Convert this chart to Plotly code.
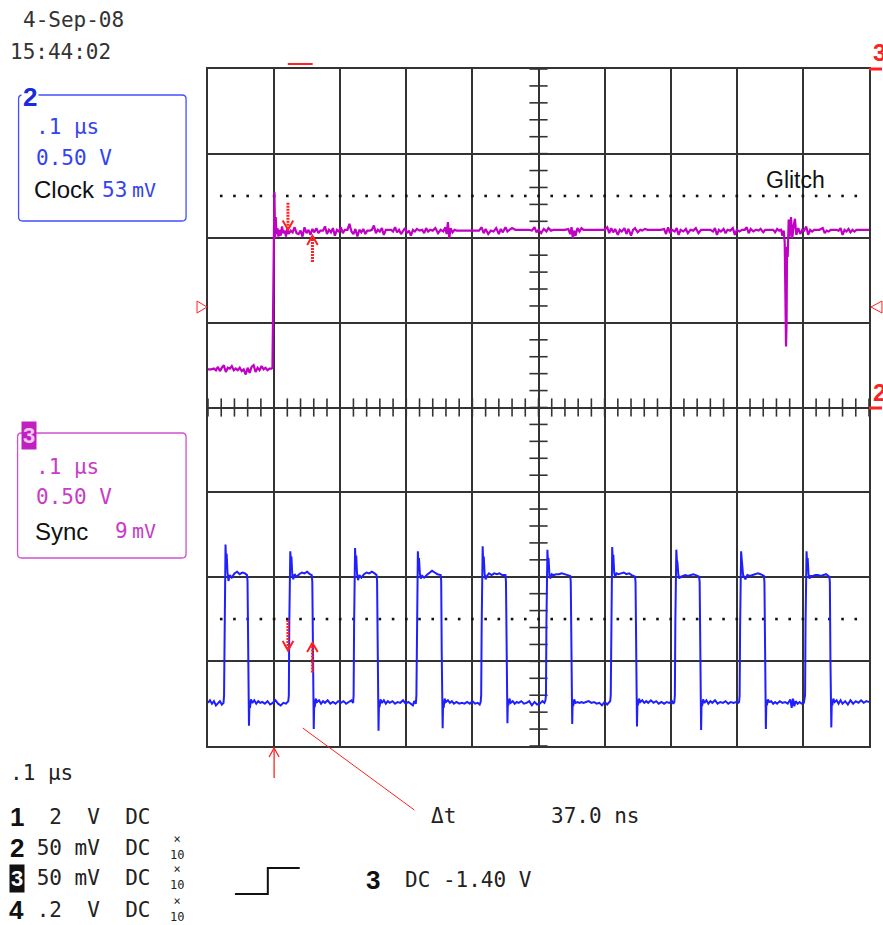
import plotly.graph_objects as go

# ---------------- data ----------------
# time axis in ns (0.1 us/div, 10 divisions), vertical in divisions (8 divisions)
x_range = [0, 1000]
y_range = [-4, 4]
trigger_t = 100
cursor_t1, cursor_t2 = 121, 158
trigger_level = 2.5      # dotted lines at +/- this level

# Clock (blue) trace
clock_t = [
    0, 3, 6, 9, 12, 15, 18, 21,
    23.5, 24.3, 25.0, 25.8, 26.5, 27.3, 28.2, 29.5, 31, 33, 36, 40, 44, 48, 52, 56, 59,
    59.8, 60.6, 61.3, 62, 62.7, 63.5, 65, 67, 70, 73, 76, 79, 82, 86, 90, 94, 98, 102, 106, 110, 114, 118, 121.5,
    122.3, 123, 123.8, 124.5, 125.3, 126.2, 127.5, 129, 131, 134, 138, 142, 146, 150, 154, 157,
    157.8, 158.6, 159.3, 160, 160.7, 161.5, 163, 165, 168, 171, 174, 177, 181, 185, 189, 193, 197, 201, 205, 209, 213, 217, 219.5,
    220.3, 221, 221.8, 222.5, 223.3, 224.2, 225.5, 227, 229, 232, 236, 240, 244, 248, 252, 255,
    255.8, 256.6, 257.3, 258, 258.7, 259.5, 261, 263, 266, 269, 272, 275, 279, 283, 287, 291, 295, 299, 303, 307, 310, 312, 314.5,
    315.3, 316, 316.8, 317.5, 318.3, 319.2, 320.5, 322, 324, 327, 331, 335, 339, 343, 347, 352,
    352.8, 353.6, 354.3, 355, 355.7, 356.5, 358, 360, 363, 366, 369, 372, 376, 380, 384, 388, 392, 396, 400, 404, 408, 411, 412.5,
    413.3, 414, 414.8, 415.5, 416.3, 417.2, 418.5, 420, 422, 425, 429, 433, 437, 441, 445, 450,
    450.8, 451.6, 452.3, 453, 453.7, 454.5, 456, 458, 461, 464, 467, 470, 474, 478, 482, 486, 490, 494, 498, 502, 506, 509, 510.5,
    511.3, 512, 512.8, 513.5, 514.3, 515.2, 516.5, 518, 520, 523, 527, 531, 535, 539, 543, 548,
    548.8, 549.6, 550.3, 551, 551.7, 552.5, 554, 556, 559, 562, 565, 568, 572, 576, 580, 584, 588, 592, 596, 600, 604, 607, 608.5,
    609.3, 610, 610.8, 611.5, 612.3, 613.2, 614.5, 616, 618, 621, 625, 629, 633, 637, 641, 646,
    646.8, 647.6, 648.3, 649, 649.7, 650.5, 652, 654, 657, 660, 663, 666, 670, 674, 678, 682, 686, 690, 694, 698, 702, 704, 705.5,
    706.3, 707, 707.8, 708.5, 709.3, 710.2, 711.5, 713, 715, 718, 722, 726, 730, 734, 738, 743,
    743.8, 744.6, 745.3, 746, 746.7, 747.5, 749, 751, 754, 757, 760, 763, 767, 771, 775, 779, 783, 787, 791, 795, 799, 802, 803.5,
    804.3, 805, 805.8, 806.5, 807.3, 808.2, 809.5, 811, 813, 816, 820, 824, 828, 832, 836, 841,
    841.8, 842.6, 843.3, 844, 844.7, 845.5, 847, 849, 852, 855, 858, 861, 865, 869, 873, 877, 881, 883, 885, 887, 889, 892, 895, 898, 901.5,
    903.3, 904, 904.8, 905.5, 906.3, 907.2, 908.5, 910, 912, 915, 919, 923, 927, 931, 935, 940,
    940.8, 941.6, 942.3, 943, 943.7, 944.5, 946, 948, 951, 954, 957, 960, 964, 968, 972, 976, 980, 984, 988, 992, 996, 1000,
]
clock_v = [
    -3.49, -3.46, -3.50, -3.47, -3.52, -3.49, -3.47, -3.51,
    -3.49, -3.40, -2.60, -1.85, -1.62, -1.82, -1.73, -1.95, -2.05, -1.98, -2.01, -1.96, -1.94, -1.97, -1.95, -1.96, -1.98,
    -2.05, -2.90, -3.55, -3.76, -3.48, -3.55, -3.45, -3.49, -3.46, -3.50, -3.47, -3.49, -3.48, -3.50, -3.47, -3.51, -3.49, -3.46, -3.50, -3.52, -3.49, -3.50, -3.47,
    -3.40, -2.55, -1.90, -1.70, -1.80, -1.76, -1.98, -2.03, -1.97, -2.00, -1.97, -1.95, -1.96, -1.94, -1.97, -1.98,
    -2.06, -2.95, -3.55, -3.80, -3.47, -3.54, -3.44, -3.48, -3.46, -3.50, -3.47, -3.49, -3.46, -3.50, -3.48, -3.50, -3.47, -3.49, -3.47, -3.50, -3.48, -3.46, -3.49,
    -3.40, -2.60, -1.88, -1.66, -1.83, -1.75, -1.97, -2.04, -1.98, -2.01, -1.97, -1.95, -1.96, -1.94, -1.96, -1.98,
    -2.05, -2.90, -3.55, -3.82, -3.48, -3.54, -3.45, -3.49, -3.46, -3.50, -3.47, -3.49, -3.47, -3.50, -3.48, -3.49, -3.46, -3.50, -3.48, -3.50, -3.52, -3.47, -3.50,
    -3.40, -2.55, -1.90, -1.70, -1.85, -1.78, -1.96, -2.02, -1.99, -2.01, -1.98, -1.95, -1.93, -1.95, -1.97, -1.98,
    -2.05, -2.90, -3.55, -3.79, -3.47, -3.55, -3.44, -3.48, -3.46, -3.49, -3.47, -3.50, -3.48, -3.50, -3.49, -3.50, -3.48, -3.50, -3.47, -3.50, -3.49, -3.51, -3.48,
    -3.40, -2.60, -1.88, -1.64, -1.82, -1.76, -1.97, -2.03, -1.99, -1.96, -1.98, -1.96, -1.97, -1.96, -1.98, -1.98,
    -2.06, -2.95, -3.55, -3.73, -3.45, -3.52, -3.44, -3.49, -3.47, -3.50, -3.48, -3.49, -3.47, -3.50, -3.49, -3.47, -3.52, -3.48, -3.51, -3.50, -3.47, -3.49, -3.46,
    -3.40, -2.55, -1.90, -1.68, -1.82, -1.78, -1.98, -2.02, -1.97, -1.98, -1.97, -1.97, -1.96, -1.97, -1.98, -1.99,
    -2.06, -2.92, -3.55, -3.74, -3.47, -3.53, -3.45, -3.49, -3.48, -3.49, -3.48, -3.49, -3.48, -3.47, -3.49, -3.48, -3.50, -3.49, -3.52, -3.48, -3.51, -3.49, -3.47,
    -3.40, -2.60, -1.88, -1.65, -1.80, -1.74, -1.95, -2.00, -1.96, -1.97, -1.96, -1.95, -1.97, -1.96, -1.98, -2.00,
    -2.06, -2.92, -3.55, -3.77, -3.46, -3.52, -3.44, -3.48, -3.46, -3.49, -3.47, -3.49, -3.46, -3.49, -3.47, -3.50, -3.48, -3.50, -3.48, -3.49, -3.47, -3.50, -3.48,
    -3.40, -2.55, -1.85, -1.68, -1.80, -1.83, -1.97, -2.02, -2.00, -1.99, -1.98, -1.99, -1.98, -1.97, -1.98, -2.00,
    -2.06, -2.95, -3.55, -3.81, -3.47, -3.53, -3.45, -3.49, -3.46, -3.50, -3.47, -3.49, -3.46, -3.50, -3.48, -3.49, -3.47, -3.50, -3.48, -3.49, -3.48, -3.49, -3.48,
    -3.40, -2.60, -1.90, -1.70, -1.78, -1.87, -1.98, -2.00, -2.03, -1.98, -1.99, -1.98, -1.97, -1.96, -1.97, -1.99,
    -2.06, -2.95, -3.55, -3.80, -3.46, -3.52, -3.45, -3.48, -3.47, -3.50, -3.48, -3.50, -3.47, -3.49, -3.48, -3.50, -3.45, -3.55, -3.44, -3.53, -3.47, -3.50, -3.48, -3.50, -3.49,
    -3.40, -2.55, -1.88, -1.70, -1.82, -1.78, -1.97, -2.02, -1.99, -1.99, -1.98, -1.98, -1.99, -1.98, -1.97, -2.00,
    -2.06, -2.95, -3.55, -3.78, -3.48, -3.52, -3.44, -3.48, -3.46, -3.50, -3.46, -3.50, -3.47, -3.51, -3.46, -3.50, -3.47, -3.49, -3.46, -3.49, -3.47, -3.48,
]

# Sync (magenta) trace
sync_t = [
    0, 5, 9, 12, 15, 18, 21, 24, 27, 30,
    33, 36, 39, 42, 45, 48, 51, 54, 57, 60,
    63, 66, 69, 72, 75, 78, 81, 84, 87, 90,
    93, 96, 97.5, 98.5, 99.5, 100.5, 101.5, 102.5, 103.5, 105,
    106.5, 108, 110, 112, 114, 116, 118, 120, 122, 125,
    128, 131, 134, 137, 140, 143, 146, 149, 152, 155,
    158, 161, 164, 167, 170, 174, 177, 180, 183, 186,
    189, 192, 195, 198, 201, 204, 207, 211, 214, 217,
    220, 223, 226, 229, 232, 235, 238, 241, 245, 248,
    251, 254, 257, 260, 263, 266, 269, 273, 277, 280,
    283, 286, 289, 292, 295, 298, 301, 304, 307, 310,
    313, 316, 320, 324, 327, 330, 333, 336, 340, 344,
    348, 352, 356, 359, 361, 363, 365, 367, 370, 373,
    376, 380, 390, 400, 410, 414, 417, 420, 424, 428,
    432, 436, 440, 443, 446, 450, 453, 456, 460, 465,
    475, 485, 490, 494, 497, 500, 504, 508, 512, 515,
    519, 523, 528, 535, 540, 545, 548, 550, 552, 554,
    556, 559, 562, 565, 568, 572, 580, 590, 600, 604,
    607, 610, 613, 616, 620, 623, 626, 630, 633, 636,
    640, 643, 646, 650, 654, 657, 661, 665, 670, 675,
    680, 685, 690, 693, 696, 699, 702, 706, 709, 712,
    715, 719, 723, 726, 730, 734, 738, 742, 746, 750,
    755, 760, 764, 767, 770, 773, 776, 780, 783, 786,
    790, 794, 797, 800, 804, 808, 812, 815, 818, 821,
    825, 829, 833, 836, 840, 843, 847, 851, 855, 858,
    861, 864, 867, 869, 871, 872.5, 873.5, 874.5, 875.3, 876,
    877, 878.5, 880, 882, 884, 886, 888, 890, 893, 896,
    899, 902, 905, 908, 911, 914, 917, 920, 925, 930,
    933, 936, 939, 942, 946, 950, 954, 957, 960, 963,
    966, 969, 972, 975, 978, 981, 985, 990, 995, 1000,
]
sync_v = [
    0.45, 0.45, 0.46, 0.44, 0.48, 0.43, 0.47, 0.50, 0.42, 0.47,
    0.46, 0.49, 0.44, 0.46, 0.44, 0.47, 0.43, 0.45, 0.39, 0.47,
    0.41, 0.48, 0.50, 0.42, 0.47, 0.44, 0.49, 0.45, 0.47, 0.44,
    0.46, 0.46, 0.47, 1.35, 2.05, 2.55, 2.00, 2.25, 2.05, 2.12,
    2.02, 2.10, 2.03, 2.14, 2.06, 2.09, 2.02, 2.12, 2.05, 2.09,
    2.07, 2.13, 2.06, 2.05, 2.09, 2.02, 2.13, 2.06, 2.10, 2.04,
    2.11, 2.07, 2.12, 2.06, 2.09, 2.09, 2.14, 2.05, 2.10, 2.07,
    2.12, 2.03, 2.10, 2.08, 2.13, 2.06, 2.10, 2.10, 2.17, 2.08,
    2.05, 2.11, 2.02, 2.10, 2.07, 2.11, 2.05, 2.09, 2.09, 2.10,
    2.15, 2.06, 2.10, 2.08, 2.12, 2.04, 2.10, 2.10, 2.10, 2.08,
    2.13, 2.07, 2.10, 2.05, 2.09, 2.12, 2.06, 2.09, 2.03, 2.10,
    2.08, 2.11, 2.09, 2.10, 2.06, 2.12, 2.08, 2.10, 2.09, 2.12,
    2.06, 2.10, 2.08, 2.13, 2.05, 2.19, 2.00, 2.12, 2.07, 2.10,
    2.09, 2.09, 2.09, 2.09, 2.09, 2.13, 2.06, 2.11, 2.05, 2.09,
    2.08, 2.12, 2.05, 2.11, 2.07, 2.13, 2.08, 2.10, 2.12, 2.10,
    2.10, 2.10, 2.09, 2.13, 2.07, 2.10, 2.06, 2.11, 2.08, 2.12,
    2.09, 2.10, 2.10, 2.10, 2.10, 2.11, 2.05, 2.13, 2.00, 2.09,
    2.03, 2.12, 2.08, 2.12, 2.10, 2.10, 2.10, 2.10, 2.10, 2.13,
    2.06, 2.12, 2.07, 2.11, 2.04, 2.10, 2.08, 2.12, 2.05, 2.11,
    2.03, 2.10, 2.12, 2.07, 2.10, 2.09, 2.11, 2.10, 2.10, 2.10,
    2.10, 2.10, 2.11, 2.05, 2.13, 2.06, 2.10, 2.08, 2.12, 2.04,
    2.10, 2.08, 2.11, 2.06, 2.10, 2.09, 2.12, 2.06, 2.10, 2.10,
    2.10, 2.10, 2.08, 2.12, 2.04, 2.10, 2.08, 2.11, 2.06, 2.10,
    2.09, 2.12, 2.04, 2.10, 2.08, 2.10, 2.10, 2.13, 2.06, 2.11,
    2.08, 2.10, 2.09, 2.11, 2.07, 2.10, 2.10, 2.10, 2.10, 2.07,
    2.11, 2.09, 2.10, 2.03, 2.09, 1.95, 1.05, 0.72, 1.00, 1.90,
    1.78, 2.22, 2.02, 2.25, 2.00, 2.15, 2.23, 2.04, 2.12, 2.05,
    2.10, 2.09, 2.14, 2.04, 2.10, 2.08, 2.10, 2.10, 2.10, 2.12,
    2.06, 2.09, 2.08, 2.10, 2.10, 2.10, 2.09, 2.12, 2.04, 2.10,
    2.08, 2.11, 2.07, 2.10, 2.08, 2.10, 2.10, 2.10, 2.10, 2.10,
]
assert len(clock_t) == len(clock_v) and len(sync_t) == len(sync_v)

# text labels
date_label, time_label = "4-Sep-08", "15:44:02"
ch2_box = [".1 µs", "0.50 V", "Clock", "53", "mV"]
ch3_box = [".1 µs", "0.50 V", "Sync", "9", "mV"]
timebase_label = ".1 µs"
channel_rows = [("1", "\u00a0\u00a02\u00a0\u00a0V\u00a0\u00a0DC", False),
                ("2", "\u00a050\u00a0mV\u00a0\u00a0DC", True),
                ("3", "\u00a050\u00a0mV\u00a0\u00a0DC", True),
                ("4", "\u00a0.2\u00a0\u00a0V\u00a0\u00a0DC", True)]
probe_label = "×<br>10"
trigger_text = ("3", "DC -1.40 V")
delta_text = ("Δt", "37.0 ns")
glitch_text = "Glitch"

# ---------------- styling / geometry ----------------
W, H = 883, 925
L, R, T, B = 208, 871, 69, 746
MONO = "DejaVu Sans Mono"
SANS = "Liberation Sans, Arial, sans-serif"
GRID = "#333333"
BLUE_TRACE = "#1f1fff"
MAG_TRACE = "#c000c4"
BLUE_TXT = "#3443f0"
MAG_TXT = "#c83cc8"
RED = "#ff2020"
INK = "#222222"

def fx(x):
    return (x - L) / (R - L)

def fy(y):
    return (B - y) / (B - T)

anns, shapes = [], []

def txt(s, x, y, size=21, color=INK, family=MONO, xanchor="left", bg="rgba(0,0,0,0)", pad=0):
    anns.append(dict(text=s, x=fx(x), y=fy(y), xref="paper", yref="paper",
                     xanchor=xanchor, yanchor="middle", showarrow=False,
                     font=dict(family=family, size=size, color=color),
                     bgcolor=bg, borderpad=pad))

def pline(points, color, width, dash="solid"):
    d = "M" + " L".join(f"{fx(a)},{fy(b)}" for a, b in points)
    shapes.append(dict(type="path", xref="paper", yref="paper", path=d,
                       line=dict(color=color, width=width, dash=dash), layer="above"))

def rrect(x0, y0, x1, y1, r, color, width):
    P = lambda a, b: f"{fx(a)},{fy(b)}"
    d = (f"M{P(x0+r,y0)} L{P(x1-r,y0)} Q{P(x1,y0)} {P(x1,y0+r)} L{P(x1,y1-r)} "
         f"Q{P(x1,y1)} {P(x1-r,y1)} L{P(x0+r,y1)} Q{P(x0,y1)} {P(x0,y1-r)} "
         f"L{P(x0,y0+r)} Q{P(x0,y0)} {P(x0+r,y0)} Z")
    shapes.append(dict(type="path", xref="paper", yref="paper", path=d,
                       line=dict(color=color, width=width), layer="above"))

def data_arrow(t, v_from, v_tip, color=RED):
    # shaft (hatched look) + chevron head, in data coordinates
    shapes.append(dict(type="line", xref="x", yref="y", x0=t, x1=t, y0=v_from, y1=v_tip,
                       line=dict(color=color, width=3, dash="2px,1px"), layer="above"))
    dv = 0.11 if v_tip < v_from else -0.11
    shapes.append(dict(type="path", xref="x", yref="y",
                       path=f"M{t-8},{v_tip+dv} L{t},{v_tip} L{t+8},{v_tip+dv}",
                       line=dict(color=color, width=2), layer="above"))

fig = go.Figure()

# center-line ticks (graticule)
fig.add_trace(go.Scatter(x=[20 * k for k in range(51)], y=[0] * 51, mode="markers",
                         marker=dict(symbol="line-ns", size=13, line=dict(width=1.6, color=GRID)),
                         hoverinfo="skip", showlegend=False))
fig.add_trace(go.Scatter(x=[500] * 41, y=[-4 + 0.2 * k for k in range(41)], mode="markers",
                         marker=dict(symbol="line-ew", size=13, line=dict(width=1.6, color=GRID)),
                         hoverinfo="skip", showlegend=False))
# dotted trigger-level lines
for lvl in (trigger_level, -trigger_level):
    fig.add_trace(go.Scatter(x=[20 * k for k in range(1, 50)], y=[lvl] * 49, mode="markers",
                             marker=dict(symbol="square", size=2.6, color="#111"),
                             hoverinfo="skip", showlegend=False))

# traces
fig.add_trace(go.Scatter(x=sync_t, y=sync_v, mode="lines", line=dict(color=MAG_TRACE, width=2.2),
                         showlegend=False, hoverinfo="skip"))
fig.add_trace(go.Scatter(x=clock_t, y=clock_v, mode="lines", line=dict(color=BLUE_TRACE, width=2),
                         showlegend=False, hoverinfo="skip"))

# cursor arrows
data_arrow(cursor_t1, 2.42, 2.10)
data_arrow(cursor_t2, 1.72, 2.03)
data_arrow(cursor_t1, -2.51, -2.87)
data_arrow(cursor_t2, -3.13, -2.78)

# trigger arrow under the graticule
tx = L + (trigger_t - x_range[0]) / (x_range[1] - x_range[0]) * (R - L)
pline([(tx, 778), (tx, 748)], RED, 1.3)
pline([(tx - 5, 757), (tx, 748), (tx + 5, 757)], RED, 1.3)
# leader line to delta-t readout
pline([(303, 728), (415, 810)], RED, 1)
# trigger position marker at top
pline([(288, 64), (313, 64)], RED, 2)
# trigger level triangles
pline([(197, 301), (207, 307), (197, 313), (197, 301)], RED, 1)
pline([(884, 301), (873, 307), (884, 313), (884, 301)], RED, 1)
# channel reference markers at right
pline([(871, 69), (884, 69)], RED, 3)
pline([(871, 408), (884, 408)], RED, 3)
txt("<b>3</b>", 874, 53, size=24, color=RED, family=SANS)
txt("<b>2</b>", 874, 393, size=24, color=RED, family=SANS)

# header
txt(date_label, 21, 20, size=21, color="#333")
txt(time_label, 8, 52, size=21, color="#333")

# channel 2 box
rrect(18, 95, 186, 221, 4, "#4050ff", 1.3)
txt("<b>2</b>", 29, 97, size=26, color="#1a2ae0", family=SANS, xanchor="center", bg="white", pad=1)
txt(ch2_box[0], 34, 127, color=BLUE_TXT)
txt(ch2_box[1], 34, 158, color=BLUE_TXT)
txt(ch2_box[2], 32, 190, size=24, color="#111", family=SANS)
txt(ch2_box[3], 101, 190, color=BLUE_TXT)
txt(ch2_box[4], 131, 190, size=20, color=BLUE_TXT)

# channel 3 box
rrect(17, 433, 186, 558, 4, "#d050d0", 1.3)
txt("<b>3</b>", 28, 435, size=22, color="#f4c8f4", family=SANS, xanchor="center", bg="#c020c0", pad=1)
txt(ch3_box[0], 34, 467, color=MAG_TXT)
txt(ch3_box[1], 34, 497, color=MAG_TXT)
txt(ch3_box[2], 33, 531, size=24, color="#111", family=SANS)
txt(ch3_box[3], 114, 531, color=MAG_TXT)
txt(ch3_box[4], 131, 531, size=20, color=MAG_TXT)

# glitch label
txt(glitch_text, 767, 180, size=23, color="#111", family=SANS)

# bottom readouts
txt(timebase_label, 8, 773, color=INK)
row_y = [817, 848, 878, 910]
for (num, rest, probe), yy in zip(channel_rows, row_y):
    if num == "3":
        txt("<b>3</b>", 16, yy, size=22, color="white", family=SANS, xanchor="center", bg="#111", pad=1)
    else:
        txt(f"<b>{num}</b>", 16, yy, size=26, color="#111", family=SANS, xanchor="center")
    txt(rest, 22, yy, color=INK)
    if probe:
        txt(probe_label, 177, yy - 1, size=12, color=INK, xanchor="center")

# trigger step glyph + trigger readout
pline([(235, 894), (268, 894), (268, 868), (300, 868)], "#111", 2)
txt(f"<b>{trigger_text[0]}</b>", 373, 880, size=26, color="#111", family=SANS, xanchor="center")
txt(trigger_text[1], 405, 880, color=INK)
txt(delta_text[0], 431, 816, color=INK)
txt(delta_text[1], 551, 816, color=INK)

axis_common = dict(showticklabels=False, ticks="", showgrid=True, gridcolor=GRID, gridwidth=1.5,
                   showline=True, mirror=True, linecolor=GRID, linewidth=2, zeroline=False,
                   fixedrange=True)
fig.update_layout(
    width=W, height=H, margin=dict(l=L, r=W - R, t=T, b=H - B, pad=0),
    paper_bgcolor="white", plot_bgcolor="white", showlegend=False, hovermode=False,
    xaxis=dict(range=x_range, dtick=100, tick0=0, **axis_common),
    yaxis=dict(range=y_range, dtick=1, tick0=0, **axis_common),
    annotations=anns, shapes=shapes,
)
fig.write_html("out.html", config={"displayModeBar": False},
               post_script="document.body.style.margin='0px';document.body.style.overflow='hidden';")
